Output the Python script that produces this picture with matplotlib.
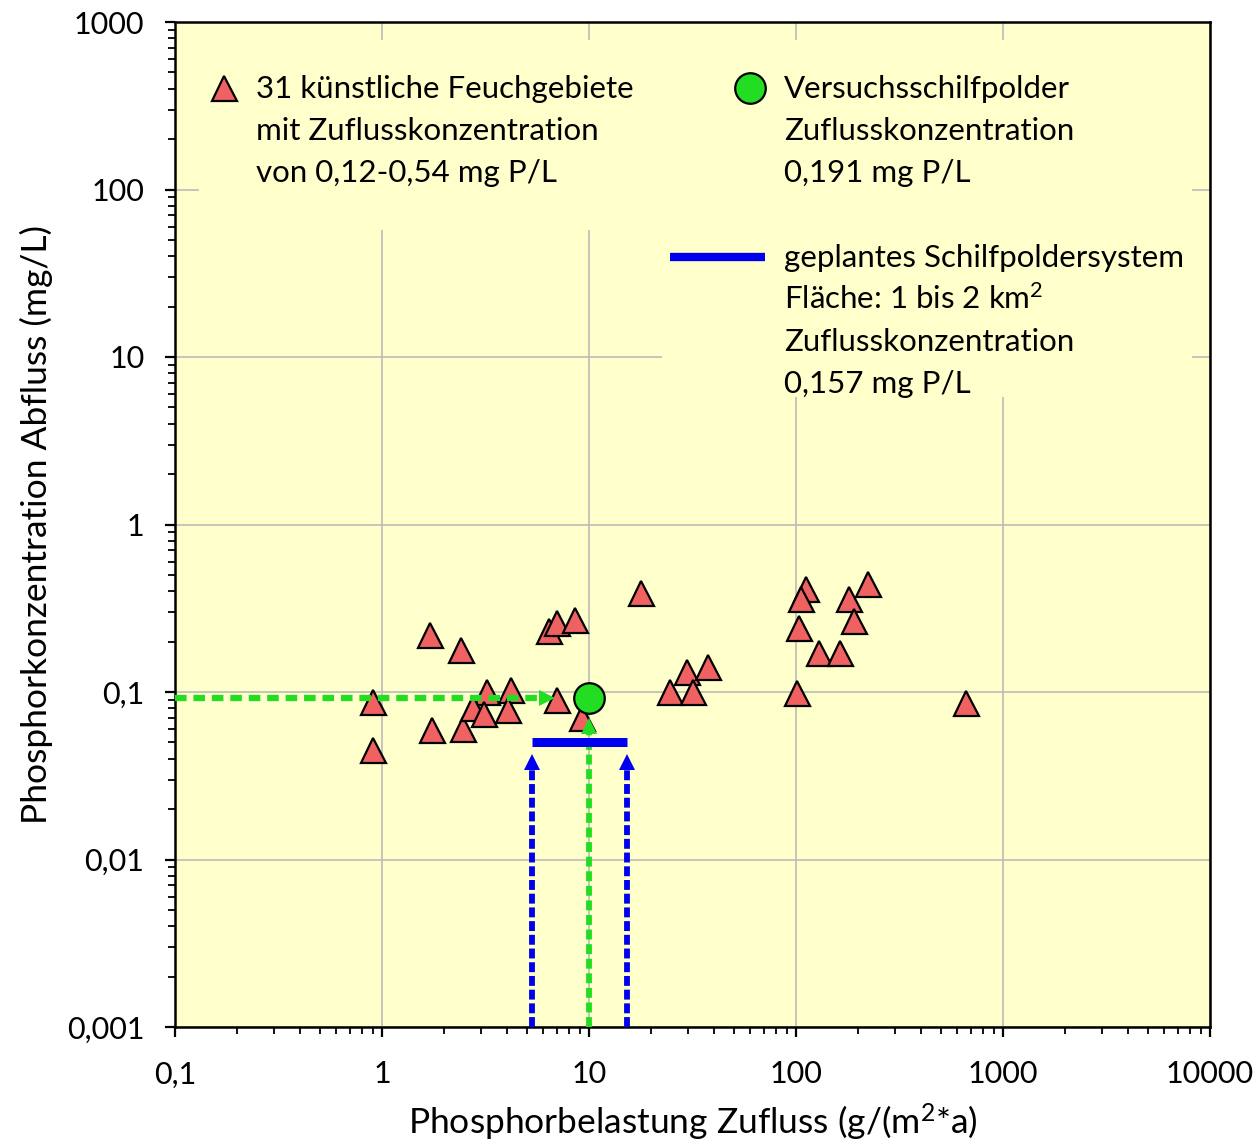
import numpy as np
import matplotlib.pyplot as plt
from matplotlib.patches import Rectangle
from matplotlib.ticker import NullFormatter, LogLocator

plt.rcParams['font.family'] = ['Lato', 'DejaVu Sans']
plt.rcParams['mathtext.fontset'] = 'custom'
plt.rcParams['mathtext.rm'] = 'Lato'
plt.rcParams['mathtext.it'] = 'Lato:italic'

# 31 kuenstliche Feuchtgebiete (Phosphorbelastung Zufluss, Konzentration Abfluss)
load_in = [0.9, 0.9, 1.7, 2.4, 1.75, 2.45, 3.2, 4.2, 2.75, 3.1, 4.05,
           6.4, 7.0, 8.6, 7.0, 9.3, 17.8, 24.6, 29.7, 37.6, 31.8,
           112, 106, 103, 129, 163, 101, 223, 180, 191, 663]
conc_out = [0.087, 0.045, 0.219, 0.178, 0.059, 0.060, 0.100, 0.103, 0.080, 0.074, 0.078,
            0.231, 0.258, 0.269, 0.090, 0.070, 0.390, 0.100, 0.132, 0.141, 0.100,
            0.412, 0.359, 0.241, 0.171, 0.171, 0.099, 0.441, 0.359, 0.265, 0.086]

# Versuchsschilfpolder
polder_x = [10]
polder_y = [0.092]

# geplantes Schilfpoldersystem (1 bis 2 km2)
plan_x = [5.3, 15.3]
plan_y = [0.05, 0.05]

# Pfeile
arrow_bottom = 0.001
blue_head_y = 0.038
green_head_y = 0.0625
green_hline_end = 6.3

x_ticks = [0.1, 1, 10, 100, 1000, 10000]
x_labels = ['0,1', '1', '10', '100', '1000', '10000']
y_ticks = [0.001, 0.01, 0.1, 1, 10, 100, 1000]
y_labels = ['0,001', '0,01', '0,1', '1', '10', '100', '1000']

bg = '#FFFFCC'
red = '#F06262'
green = '#22DD22'
blue = '#0000EE'

fig = plt.figure(figsize=(12.6, 11.42), dpi=100)
ax = fig.add_axes([175/1260, 1 - 1027/1142, 1035/1260, 1005/1142])
ax.set_facecolor(bg)
ax.set_xscale('log')
ax.set_yscale('log')
ax.set_xlim(0.1, 10000)
ax.set_ylim(0.001, 1000)
ax.set_axisbelow(True)
ax.grid(True, which='major', color='#BBBBBB', lw=1.2)


def frac(px, py):
    return (px - 175) / 1035, (1027 - py) / 1005


# boxes behind the legend text hide the grid
for x0, y0, x1, y1 in [(199, 40, 662, 230), (662, 40, 1192, 397)]:
    fx0, fy1 = frac(x0, y1)
    fx1, fy0 = frac(x1, y0)
    ax.add_patch(Rectangle((fx0, fy1), fx1 - fx0, fy0 - fy1, transform=ax.transAxes,
                           facecolor=bg, edgecolor='none', zorder=1))

ax.plot(load_in, conc_out, linestyle='none', marker='^', ms=18, mfc=red, mec='black', mew=1.6, zorder=3)
ax.plot(polder_x, polder_y, linestyle='none', marker='o', ms=22, mfc=green, mec='black', mew=1.6, zorder=4)

# blaue Pfeile
for xv in plan_x:
    ax.plot([xv, xv], [arrow_bottom, blue_head_y], color=blue, lw=4.2, dashes=(1.7, 0.65),
            solid_capstyle='butt', dash_capstyle='butt', zorder=5)
    ax.plot([xv], [blue_head_y], marker='^', ms=11, color=blue, mew=0, zorder=5)
# gruene Pfeile
ax.plot([polder_x[0], polder_x[0]], [arrow_bottom, green_head_y], color=green, lw=4.2,
        dashes=(1.7, 0.8), dash_capstyle='butt', zorder=5)
ax.plot(polder_x, [green_head_y], marker='^', ms=11, color=green, mew=0, zorder=6)
ax.plot([0.1, green_hline_end], [polder_y[0], polder_y[0]], color=green, lw=4.5,
        dashes=(1.85, 1.1), dash_capstyle='butt', zorder=5)
ax.plot([green_hline_end], polder_y, marker='>', ms=11, color=green, mew=0, zorder=6)
ax.plot(plan_x, plan_y, color=blue, lw=6.5, solid_capstyle='butt', zorder=6)

# Legende
fs = 22.5
tx, ty = frac(224, 88)
ax.plot([tx], [ty], transform=ax.transAxes, marker='^', ms=18, mfc=red, mec='black', mew=1.6, clip_on=False)
cx, cy = frac(750, 88)
ax.plot([cx], [cy], transform=ax.transAxes, marker='o', ms=22, mfc=green, mec='black', mew=1.6, clip_on=False)
lx0, ly = frac(670, 257)
lx1, _ = frac(765, 257)
ax.plot([lx0, lx1], [ly, ly], transform=ax.transAxes, color=blue, lw=6, solid_capstyle='butt')

left_lines = ['31 künstliche Feuchgebiete', 'mit Zuflusskonzentration', 'von 0,12-0,54 mg P/L']
right_lines = ['Versuchsschilfpolder', 'Zuflusskonzentration', '0,191 mg P/L']
plan_lines = ['geplantes Schilfpoldersystem', 'Fläche: 1 bis 2 km$^2$', 'Zuflusskonzentration',
              '0,157 mg P/L']
for i, s in enumerate(left_lines):
    x, y = frac(256, 98 + 42 * i)
    ax.text(x, y, s, transform=ax.transAxes, fontsize=fs, va='baseline', ha='left')
for i, s in enumerate(right_lines):
    x, y = frac(784, 98 + 42 * i)
    ax.text(x, y, s, transform=ax.transAxes, fontsize=fs, va='baseline', ha='left')
for i, s in enumerate(plan_lines):
    x, y = frac(784, 267 + 42 * i)
    ax.text(x, y, s, transform=ax.transAxes, fontsize=fs, va='baseline', ha='left')

ax.set_xticks(x_ticks)
ax.set_xticklabels(x_labels)
ax.set_yticks(y_ticks)
ax.set_yticklabels(y_labels)
ax.xaxis.set_minor_locator(LogLocator(base=10, subs=np.arange(2, 10), numticks=20))
ax.yaxis.set_minor_locator(LogLocator(base=10, subs=np.arange(2, 10), numticks=20))
ax.xaxis.set_minor_formatter(NullFormatter())
ax.yaxis.set_minor_formatter(NullFormatter())
ax.tick_params(which='major', direction='out', length=7, width=1.6, labelsize=22)
ax.tick_params(which='minor', direction='out', length=5, width=1.3)
ax.tick_params(axis='x', which='major', pad=17)
ax.tick_params(axis='y', which='major', pad=15)
for sp in ax.spines.values():
    sp.set_linewidth(1.8)

ax.set_xlabel('Phosphorbelastung Zufluss (g/(m$^2$*a)', fontsize=25.5, labelpad=10)
ax.set_ylabel('Phosphorkonzentration Abfluss (mg/L)', fontsize=25.5, labelpad=10)

fig.savefig('out.png', dpi=100, facecolor='white')
